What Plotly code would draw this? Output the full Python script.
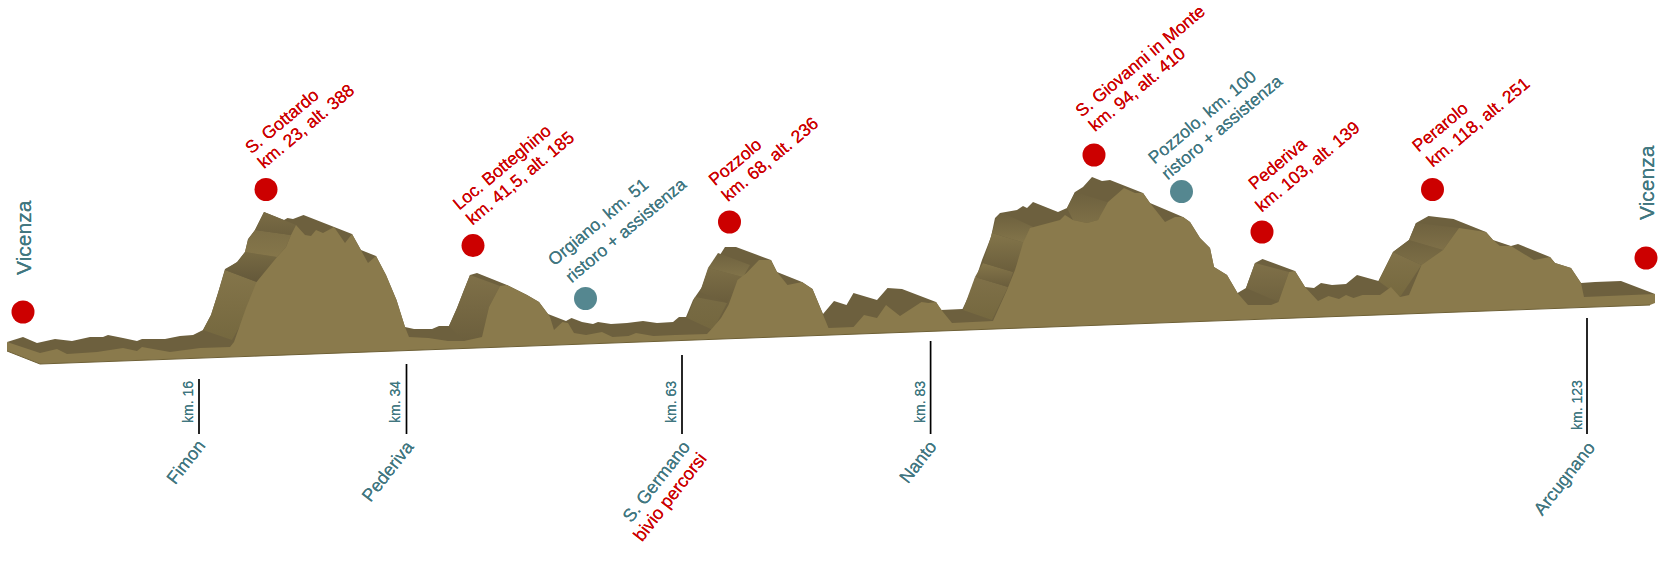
import plotly.graph_objects as go

# Profile outlines (picture pixels: x along the route, y downward)
ridge_x = [7,23,37,55,72,90,103,108,123,137,142,165,180,193,203,211,218,225,237.5,245,248,255,264,284,287.5,293,303.5,334,352,361,376,386,396.5,405,414,432,439,449,457,464,470,477,507,527,539,548,566,571.5,582,593,598,611,627,643,657,673,679,686,693,702,709,718,725,736,771,777,802,812.5,818,823,834,846.5,853.5,877,887.5,902,936,941,962.5,973,982,991,995,1000,1017,1023,1027,1033,1058,1067,1075,1083,1092,1102,1110,1143,1150,1183,1190,1200,1210,1214,1227,1234,1237.5,1246,1255,1262.5,1295,1305,1314,1321,1332,1346,1357,1378.5,1393,1409,1416,1428.5,1453.5,1486,1493,1511,1518,1550,1555,1571,1581,1595,1621,1655,1640,40]
ridge_y = [342,337,343,339,341,337,337,335,338,341,339,339,336,335,330,315,293,269,262,252,239,230,212,220,218,219,215,227,234,250,256,275,300,327,329,329,326,326,308,290,275,273,285,295,302,314,321,318,322,324,322,324,323,321,323,322,317,317,300,287,267,258,247,247,260,272,282,289,303,314,301,305,293,300,288,289,302,310,309,287,260,237,218,213,210,206,208,202,212,208,192,187,177,181,180,193,203,217,222,238,248,267,275,287,293,288,263,259,271,287,288,283,285,284,275,281,252,240,223,216,219,232,240,246,244,257,263,268,283,282,281,294,303,362]
front_x = [7,40,57,67,97,123,137,142,170,200,230,234,246,256.5,277,286,291,296,305,311,316,323,334,345,352,361,368,376,386,396.5,405,409,428.5,448,464,482,489,500,507,527,539,548,550,554,562.5,568,574,586,602,612.5,628.5,636,653.5,675,707,712.5,721,728.5,737.5,746.5,759,771,777,787.5,802,812.5,818,823,828.5,853.5,864,877,886,900,921.5,928.5,936,943,952,993,1007,1015,1023,1030,1052,1060,1065,1073,1087,1098,1108,1124,1135,1143,1150,1165,1175,1183,1190,1200,1210,1214,1227,1234,1237.5,1248,1271,1278.5,1289,1295,1305,1318,1328.5,1339,1346,1353.5,1362.5,1380,1391,1400,1409,1421.5,1443,1459,1486,1493,1500,1511,1534,1550,1555,1571,1581,1584,1628.5,1655,1655,1650,40,7]
front_y = [342,353,349,354,352,348,351,347,352,348,347,342,308,282,257,247,235,225,235,236,230,233,227,243,234,250,263,256,275,300,327,337,338,341,341,337,307,286,285,295,302,314,317,330,322,323,333,335,332,337,336,333,336,335,334,328,318,305,280,273,260,260,272,285,282,289,303,314,328,327,315,318,305,316,302,303,302,312,323,321,290,270,243,228,222,220,215,220,223,220,202,188,193,193,203,222,217,217,222,238,248,267,275,287,293,305,305,302,272,271,287,301,296,299,295,298,295,295,287,297,295,265,250,228,232,240,246,246,260,257,263,268,283,297,295,294,303,305,364,351]

# Shaded slope bands on the back face, each with a top and a bottom shade
band_x = [
    [203,211,218,225,257,246,232],
    [225,237,245,277,257],
    [245,248,255,291,286,277],
    [255,264,296,291],
    [449,457,464,470,500,489,482,464],
    [687,695,727,713],
    [700,708,743,727],
    [708,718,750,743],
    [963,975,1008,992],
    [975,983,1013,1008],
    [983,992,1025,1013],
    [992,997,1003,1033,1025],
    [1067,1075,1110,1098,1087,1073],
    [1246,1255,1289,1278.5],
    [1378.5,1393,1421.5,1400],
    [1393,1409,1443,1421.5],
    [1409,1416,1459,1443],
]
band_y = [
    [330,315,293,270,282,315,340],
    [270,262,252,257,282],
    [252,240,230,235,247,257],
    [230,212,225,235],
    [326,308,290,275,286,307,337,341],
    [318,297,303,330],
    [292,268,277,303],
    [268,253,265,277],
    [310,277,287,320],
    [277,263,272,287],
    [263,233,243,272],
    [233,217,213,227,243],
    [208,192,203,220,223,220],
    [288,263,272,302],
    [281,252,265,297],
    [252,240,250,265],
    [240,223,228,250],
]
band_top = ["#84754a","#776a43","#7c6e46","#7a6c45","#7f7048","#786b44","#7c6e46","#6f623f",
            "#7f7048","#85764a","#83754a","#6d603e","#6d603e","#7f7048","#817249","#6f623f","#6f623f"]
band_bottom = ["#75683f","#64583a","#85764a","#6d603e","#6c5f3d","#74673f","#6a5d3c","#82744a",
               "#75683f","#6a5d3c","#6b5e3c","#83754a","#7e7047","#6f623f","#76693f","#7c6e46","#7f7048"]

# Dots
red_x = [23,266,473,729.5,1094,1262,1432.5,1646]
red_y = [312,189.5,245.6,222,155,232,189.5,258]
teal_x = [585.5,1181.5]
teal_y = [298.5,191.6]

# Tick marks under the profile
tick_x = [199,406.5,682,930.6,1587]
tick_top = [379,364,355,341,318]
tick_bottom = [434,434,434,434,434]

# Slanted captions (text, x, y)
red_labels = [
    ("S. Gottardo",282,121),("km. 23, alt. 388",306,126),
    ("Loc. Botteghino",502,167),("km. 41,5, alt. 185",520,178),
    ("Pozzolo",735,162),("km. 68, alt. 236",770,159),
    ("S. Giovanni in Monte",1140,61),("km. 94, alt. 410",1137,89),
    ("Pederiva",1277,164),("km. 103, alt. 139",1307,167),
    ("Perarolo",1440,127),("km. 118, alt. 251",1478,122),
]
teal_labels = [
    ("Orgiano, km. 51",598,222),("ristoro + assistenza",626,230),
    ("Pozzolo, km. 100",1202,117),("ristoro + assistenza",1222,127),
]
end_labels = [("Vicenza",23,238),("Vicenza",1646,183)]
km_labels = [("km. 16",188,402),("km. 34",395,402),("km. 63",671,402),("km. 83",920,402),("km. 123",1577,405)]
place_labels = [("Fimon",186,462),("Pederiva",388,471),("S. Germano",656,482),("Nanto",918,462),("Arcugnano",1564,479)]
fork_labels = [("bivio percorsi",670,497)]

RED = "#cc0000"
TEAL = "#41767f"
BACK = "#6d603e"
FRONT = "#8a7a4c"
FONT = "Liberation Sans, Arial, sans-serif"

fig = go.Figure()

fig.add_trace(go.Scatter(x=ridge_x, y=ridge_y, mode="lines", fill="toself", fillcolor=BACK,
                         line=dict(width=0, color=BACK), hoverinfo="skip", showlegend=False))
for bx, by, top, bottom in zip(band_x, band_y, band_top, band_bottom):
    fig.add_trace(go.Scatter(x=bx, y=by, mode="lines", fill="toself",
                             fillgradient=dict(type="vertical", colorscale=[[0, bottom], [1, top]]),
                             line=dict(width=0), hoverinfo="skip", showlegend=False))
fig.add_trace(go.Scatter(x=front_x, y=front_y, mode="lines", fill="toself", fillcolor=FRONT,
                         line=dict(width=0, color=FRONT), hoverinfo="skip", showlegend=False))
fig.add_trace(go.Scatter(x=front_x[-3:], y=front_y[-3:], mode="lines",
                         line=dict(width=1, color="#6e6036"), hoverinfo="skip", showlegend=False))

for tx, t0, t1 in zip(tick_x, tick_top, tick_bottom):
    fig.add_trace(go.Scatter(x=[tx, tx], y=[t0, t1], mode="lines",
                             line=dict(width=1.7, color="#000000"), hoverinfo="skip", showlegend=False))

fig.add_trace(go.Scatter(x=red_x, y=red_y, mode="markers", marker=dict(size=23, color=RED, line=dict(width=0)),
                         hoverinfo="skip", showlegend=False))
fig.add_trace(go.Scatter(x=teal_x, y=teal_y, mode="markers", marker=dict(size=23, color="#558790", line=dict(width=0)),
                         hoverinfo="skip", showlegend=False))

def labels(items, color, size, angle):
    for text, x, y in items:
        fig.add_annotation(x=x, y=y, text=text, textangle=angle, showarrow=False,
                           xanchor="center", yanchor="middle",
                           font=dict(family=FONT, size=size, color=color,
                                     shadow=f"0 0 0.6px {color}"))

labels(red_labels, RED, 17.5, -40)
labels(teal_labels, TEAL, 17.5, -40)
labels(end_labels, TEAL, 21, -90)
labels(km_labels, TEAL, 14, -90)
labels(place_labels, TEAL, 18, -52)
labels(fork_labels, RED, 18, -52)

fig.update_layout(width=1660, height=565, margin=dict(l=0, r=0, t=0, b=0),
                  paper_bgcolor="white", plot_bgcolor="white", showlegend=False,
                  xaxis=dict(range=[0, 1660], visible=False),
                  yaxis=dict(range=[565, 0], visible=False))
fig.write_html("out.html", config={"displayModeBar": False}, post_script="document.body.style.margin='0';")
